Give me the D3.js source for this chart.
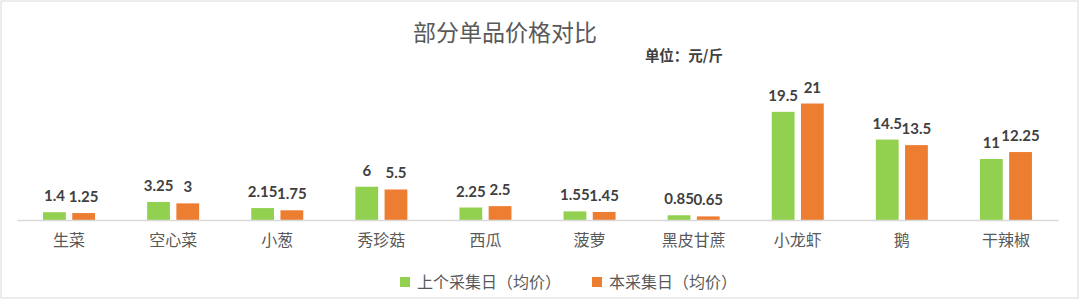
<!DOCTYPE html>
<html>
<head>
<meta charset="utf-8">
<script src="https://cdn.jsdelivr.net/npm/d3@7"></script>
<style>
  body { margin: 0; background: #fff; }
  text { font-family: "Noto Sans CJK SC", "Noto Sans", sans-serif; }
  .val { font-family: Lato, "Liberation Sans", sans-serif; font-weight: bold; font-size: 15px; fill: #404040; }
</style>
</head>
<body>
<div id="chart"></div>
<script>
// categories and series
var categories = ["生菜", "空心菜", "小葱", "秀珍菇", "西瓜", "菠萝", "黑皮甘蔗", "小龙虾", "鹅", "干辣椒"];
var lastDay = [1.4, 3.25, 2.15, 6, 2.25, 1.55, 0.85, 19.5, 14.5, 11];
var thisDay = [1.25, 3, 1.75, 5.5, 2.5, 1.45, 0.65, 21, 13.5, 12.25];
var seriesNames = ["上个采集日（均价）", "本采集日（均价）"];
var colors = ["#92D050", "#ED7D31"];

var fullWidth = 1080, fullHeight = 300;
var margin = {top: 78, right: 22, bottom: 80, left: 17},
    width = fullWidth - margin.left - margin.right,
    height = fullHeight - margin.top - margin.bottom;

var svg = d3.select("#chart").append("svg")
    .attr("width", fullWidth)
    .attr("height", fullHeight);

// frame
svg.append("rect")
    .attr("x", 1).attr("y", 1)
    .attr("width", fullWidth - 3).attr("height", fullHeight - 3)
    .attr("fill", "#fff")
    .attr("stroke", "#d9d9d9");

// title
svg.append("text")
    .attr("x", 505).attr("y", 41)
    .attr("text-anchor", "middle")
    .style("font-size", "23px")
    .style("fill", "#595959")
    .text("部分单品价格对比");

svg.append("text")
    .attr("x", 723).attr("y", 61)
    .attr("text-anchor", "end")
    .style("font-size", "14.5px")
    .style("font-weight", "bold")
    .style("fill", "#404040")
    .text("单位：元/斤");

var g = svg.append("g")
    .attr("transform", "translate(" + margin.left + "," + margin.top + ")");

var x0 = d3.scaleBand()
    .domain(categories)
    .range([0, width]);

var x1 = d3.scaleBand()
    .domain([0, 1])
    .range([x0.bandwidth() / 2 - 26, x0.bandwidth() / 2 + 26])
    .paddingInner(0.22);

var y = d3.scaleLinear()
    .domain([0, 25.6])
    .range([height, 0]);

var rows = categories.map(function(c, i) {
    return {cat: c, values: [lastDay[i], thisDay[i]]};
});

var groups = g.selectAll(".grp")
    .data(rows)
    .enter().append("g")
    .attr("class", "grp")
    .attr("transform", function(d) { return "translate(" + x0(d.cat) + ",0)"; });

groups.selectAll("rect")
    .data(function(d) { return d.values; })
    .enter().append("rect")
    .attr("x", function(d, i) { return x1(i); })
    .attr("y", function(d) { return y(d); })
    .attr("width", x1.bandwidth())
    .attr("height", function(d) { return height - y(d); })
    .attr("fill", function(d, i) { return colors[i]; });

groups.selectAll(".val")
    .data(function(d) { return d.values; })
    .enter().append("text")
    .attr("class", "val")
    .attr("x", function(d, i) { return x1(i) + x1.bandwidth() / 2; })
    .attr("y", function(d) { return y(d) - 11; })
    .attr("text-anchor", "middle")
    .text(function(d) { return d; });

// x axis
var xAxis = g.append("g")
    .attr("transform", "translate(0," + height + ")")
    .call(d3.axisBottom(x0).tickSize(0).tickPadding(15));
xAxis.select(".domain").attr("stroke", "#d9d9d9").attr("stroke-width", 1.5);
xAxis.selectAll("text")
    .style("font-family", "'Noto Sans CJK SC', sans-serif")
    .style("font-size", "16px")
    .style("fill", "#595959");

// legend
var legend = svg.append("g")
    .attr("transform", "translate(0,282)");
var legendX = [400, 592];
seriesNames.forEach(function(name, i) {
    var item = legend.append("g").attr("transform", "translate(" + legendX[i] + ",0)");
    item.append("rect")
        .attr("x", 0).attr("y", -5)
        .attr("width", 10).attr("height", 10)
        .attr("fill", colors[i]);
    item.append("text")
        .attr("x", 17).attr("y", 6)
        .style("font-size", "16px")
        .style("fill", "#595959")
        .text(name);
});
</script>
</body>
</html>
